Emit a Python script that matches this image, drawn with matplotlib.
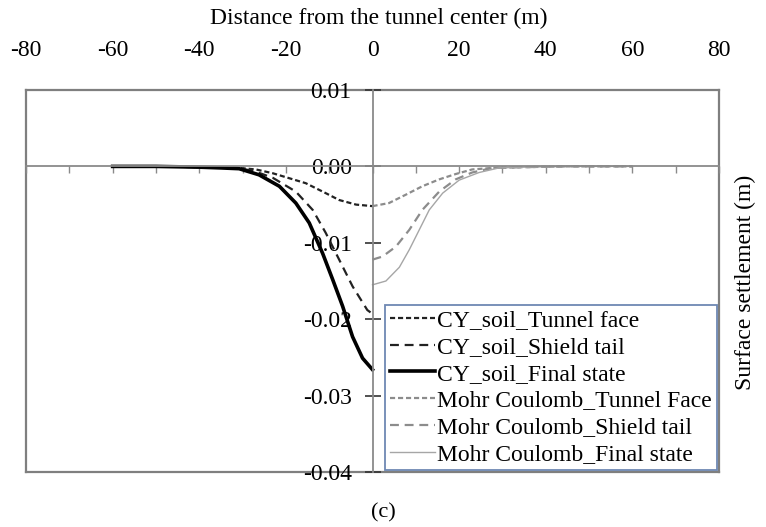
import matplotlib
matplotlib.use("Agg")
import matplotlib.pyplot as plt
from matplotlib.ticker import MultipleLocator, FuncFormatter

plt.rcParams['font.family'] = ['Liberation Serif', 'DejaVu Serif']
plt.rcParams['axes.unicode_minus'] = False

# ---- data ----
cy_face_x = [-60, -50, -40, -30.8, -26.9, -23, -15.4, -10.8, -7.7, -3.8, 0]
cy_face_y = [0, 0, -0.0001, -0.0002, -0.0004, -0.0009, -0.0022, -0.0035, -0.0044, -0.0050, -0.0052]

cy_tail_x = [-60, -50, -40, -30.8, -26.9, -23, -17.7, -13.8, -10.8, -7.7, -4.6, -1.2, 0]
cy_tail_y = [0, 0, -0.0001, -0.0002, -0.0007, -0.0015, -0.0033, -0.0057, -0.0087, -0.0122, -0.0157, -0.0188, -0.0193]

cy_final_x = [-60, -50, -40, -35, -30.8, -26.2, -21.5, -17.7, -14.6, -11.5, -9.2, -6.9, -4.6, -2.3, 0]
cy_final_y = [0, 0, -0.0001, -0.0002, -0.0003, -0.0011, -0.0026, -0.0048, -0.0074, -0.0114, -0.0148, -0.0183, -0.0223, -0.0251, -0.0266]

mc_face_x = [0, 3.8, 7.7, 11.5, 15.4, 19.2, 23, 27.7, 35, 45, 60]
mc_face_y = [-0.0052, -0.0048, -0.0037, -0.0026, -0.0017, -0.0010, -0.0004, -0.0002, -0.0001, 0, 0]

mc_tail_x = [0, 2.3, 5.4, 8.5, 11.5, 15.4, 19.2, 23, 27.7, 35, 45, 60]
mc_tail_y = [-0.0122, -0.0118, -0.0105, -0.0083, -0.0057, -0.0033, -0.0017, -0.0008, -0.0002, -0.0001, 0, 0]

mc_final_x = [0, 3.1, 6.2, 8.5, 10.8, 13.1, 16.2, 20, 24.6, 29.2, 35, 45, 60]
mc_final_y = [-0.0155, -0.0150, -0.0132, -0.0109, -0.0083, -0.0057, -0.0035, -0.0018, -0.0008, -0.0002, -0.0001, 0, 0]

labels = ["CY_soil_Tunnel face", "CY_soil_Shield tail", "CY_soil_Final state",
          "Mohr Coulomb_Tunnel Face", "Mohr Coulomb_Shield tail", "Mohr Coulomb_Final state"]

x_major_ticks = [-80, -60, -40, -20, 0, 20, 40, 60, 80]
y_major_ticks = [0.01, 0.0, -0.01, -0.02, -0.03, -0.04]

# ---- figure ----
fig = plt.figure(figsize=(7.66, 5.27), dpi=100)
pos = [26/766, 1-472/527, (719-26)/766, (472-90)/527]

box = fig.add_axes(pos, zorder=0)
box.set_xticks([]); box.set_yticks([])
for s in box.spines.values():
    s.set_color('#7f7f7f'); s.set_linewidth(1.6)
box.set_facecolor('white')

ax = fig.add_axes(pos, zorder=1)
ax.set_facecolor('none')
ax.set_xlim(-80, 80)
ax.set_ylim(-0.04, 0.01)

ax.spines['top'].set_visible(False)
ax.spines['right'].set_visible(False)
ax.spines['left'].set_position(('data', 0))
ax.spines['bottom'].set_position(('data', 0))
for k in ('left', 'bottom'):
    ax.spines[k].set_color('#8a8a8a'); ax.spines[k].set_linewidth(1.3)

gray = '#8c8c8c'
ax.plot(cy_face_x, cy_face_y, color='#222222', lw=1.6, dashes=(2.3, 1.3), label=labels[0])
ax.plot(cy_tail_x, cy_tail_y, color='#222222', lw=1.6, dashes=(4.0, 2.6), label=labels[1])
ax.plot(cy_final_x, cy_final_y, color='black', lw=2.6, label=labels[2])
ax.plot(mc_face_x, mc_face_y, color=gray, lw=1.6, dashes=(2.3, 1.3), label=labels[3])
ax.plot(mc_tail_x, mc_tail_y, color=gray, lw=1.6, dashes=(4.0, 2.6), label=labels[4])
ax.plot(mc_final_x, mc_final_y, color='#a6a6a6', lw=1.0, label=labels[5])

# x axis: ticks on the zero line, labels on top
ax.set_xticks(x_major_ticks)
ax.xaxis.set_minor_locator(MultipleLocator(10))
ax.tick_params(axis='x', which='both', bottom=True, top=False, labelbottom=False, labeltop=True,
               direction='out', length=5, width=1, color='#8a8a8a', labelsize=17, pad=16)

# y axis: on the x=0 line
ax.set_yticks(y_major_ticks)
ax.yaxis.set_major_formatter(FuncFormatter(lambda v, p: f"{v:.2f}" if abs(v) > 1e-9 else "0.00"))
ax.tick_params(axis='y', which='major', direction='inout', length=12, width=1.2, color='#333333',
               labelsize=17, pad=9)

leg = ax.legend(loc='lower right', fontsize=17, frameon=True, fancybox=False,
                handlelength=1.9, handletextpad=0.1, labelspacing=0.22, borderpad=0.2,
                borderaxespad=0.1)
leg.get_frame().set_edgecolor('#4a6aa0')
leg.get_frame().set_linewidth(1.3)

fig.text(0.494, 1-18/527, "Distance from the tunnel center (m)", ha='center', va='center', fontsize=17)
fig.text(745/766, 1-282/527, "Surface settlement (m)", ha='center', va='center', rotation=90, fontsize=17)
fig.text(383/766, 1-513/527, "(c)", ha='center', va='center', fontsize=16)

fig.savefig("out.png", dpi=100)
